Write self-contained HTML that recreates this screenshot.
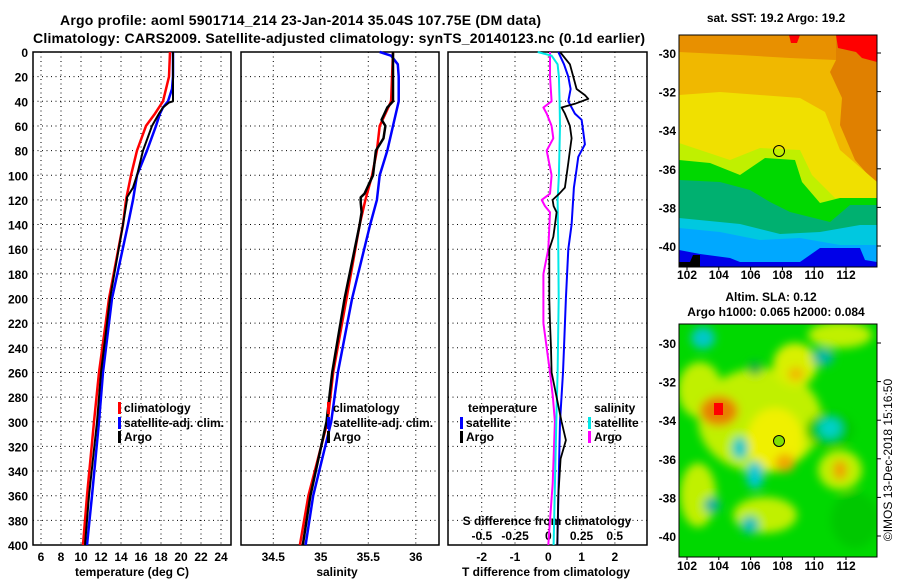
<!DOCTYPE html>
<html><head><meta charset="utf-8"><style>
html,body{margin:0;padding:0;background:#fff;}
svg{display:block;font-family:"Liberation Sans",Arial,sans-serif;font-weight:bold;}
</style></head><body>
<svg id="c" width="900" height="580" xmlns="http://www.w3.org/2000/svg">
<defs>
<clipPath id="clipTop"><rect x="679" y="35" width="198" height="232"/></clipPath>
<clipPath id="clipBot"><rect x="679" y="324" width="198" height="233"/></clipPath>
<filter id="blur" x="-20%" y="-20%" width="140%" height="140%"><feGaussianBlur stdDeviation="4.5"/></filter>
</defs>
<text x="60" y="25" font-size="14" textLength="481">Argo profile: aoml 5901714_214 23-Jan-2014 35.04S 107.75E (DM data)</text>
<text x="33" y="43" font-size="14" textLength="612">Climatology: CARS2009. Satellite-adjusted climatology: synTS_20140123.nc (0.1d earlier)</text>

<!-- SST map -->
<g clip-path="url(#clipTop)">
<rect x="679" y="35" width="198" height="232" fill="#f0b800"/>
<polygon fill="#e89000" points="679,35 836,35 836,60 790,58 740,55 679,52"/>
<polygon fill="#e08000" points="836,35 877,35 877,185 855,160 840,125 842,98 830,72 836,60"/>
<polygon fill="#ff0000" points="836,35 877,35 877,62 862,58 856,52 838,48"/>
<polygon fill="#ff0000" points="789,35 800,35 797,43 791,43"/>
<polygon fill="#f0e000" points="679,95 720,92 760,95 800,98 825,112 840,150 877,182 877,267 679,267"/>
<polygon fill="#c0f000" points="679,143 700,150 730,160 760,148 800,150 812,175 835,198 877,200 877,267 679,267"/>
<polygon fill="#00d800" points="679,160 710,163 740,175 765,158 795,160 802,182 820,203 840,198 877,198 877,267 679,267"/>
<polygon fill="#00b070" points="679,180 720,182 750,190 770,202 790,212 830,222 850,205 877,205 877,267 679,267"/>
<polygon fill="#00c8e0" points="679,218 740,224 780,234 820,232 860,225 877,225 877,267 679,267"/>
<polygon fill="#00a8ff" points="679,228 720,232 760,240 800,238 840,245 877,245 877,267 679,267"/>
<polygon fill="#0000e8" points="679,250 700,254 730,258 740,262 800,262 820,248 860,248 865,260 877,262 877,267 679,267"/>
<polygon fill="#000" points="679,262 690,262 693,255 700,255 700,267 679,267"/>
</g>
<rect x="679" y="35" width="198" height="232" fill="none" stroke="#000" stroke-width="1"/>
<circle cx="779" cy="151" r="5.5" fill="none" stroke="#000" stroke-width="1"/>
<text x="776" y="22" font-size="12" text-anchor="middle">sat. SST: 19.2 Argo: 19.2</text>

<!-- SLA map -->
<g clip-path="url(#clipBot)">
<rect x="679" y="324" width="198" height="233" fill="#00d800"/>
<g filter="url(#blur)">
<ellipse cx="760" cy="420" rx="62" ry="52" fill="#c0f000"/>
<ellipse cx="700" cy="390" rx="22" ry="28" fill="#c0f000"/>
<ellipse cx="698" cy="495" rx="18" ry="32" fill="#c0f000"/>
<ellipse cx="765" cy="515" rx="32" ry="18" fill="#c0f000"/>
<ellipse cx="840" cy="335" rx="32" ry="13" fill="#c0f000"/>
<ellipse cx="795" cy="365" rx="22" ry="22" fill="#d8f000"/>
<ellipse cx="840" cy="470" rx="22" ry="20" fill="#c0f000"/>
<ellipse cx="775" cy="440" rx="28" ry="32" fill="#f0f000"/>
<ellipse cx="719" cy="411" rx="19" ry="15" fill="#e88000"/>
<ellipse cx="785" cy="463" rx="10" ry="9" fill="#f0a800"/>
<ellipse cx="840" cy="470" rx="7" ry="10" fill="#f0a000"/>
<ellipse cx="796" cy="374" rx="8" ry="7" fill="#f0b800"/>
<ellipse cx="830" cy="430" rx="24" ry="17" fill="#00c800"/>
<ellipse cx="855" cy="520" rx="24" ry="28" fill="#00c800"/>
<ellipse cx="703" cy="338" rx="12" ry="11" fill="#00c8c8"/>
<ellipse cx="823" cy="357" rx="11" ry="9" fill="#00b8a0"/>
<ellipse cx="830" cy="428" rx="11" ry="10" fill="#00d0c8"/>
<ellipse cx="740" cy="448" rx="8" ry="11" fill="#00c8c8"/>
<ellipse cx="755" cy="475" rx="9" ry="14" fill="#00c8d0"/>
<ellipse cx="712" cy="505" rx="8" ry="8" fill="#00b0a0"/>
<ellipse cx="750" cy="525" rx="9" ry="9" fill="#00c0b8"/>
<ellipse cx="755" cy="368" rx="7" ry="7" fill="#00b040"/>
</g>
<rect x="714" y="403" width="9" height="12" fill="#ff0000"/>
</g>
<rect x="679" y="324" width="198" height="233" fill="none" stroke="#000" stroke-width="1"/>
<circle cx="779" cy="441" r="5.5" fill="#80e000" stroke="#000" stroke-width="1"/>
<text x="771" y="301" font-size="12" text-anchor="middle">Altim. SLA: 0.12</text>
<text x="776" y="316" font-size="12" text-anchor="middle">Argo h1000: 0.065 h2000: 0.084</text>
<text transform="translate(892,460) rotate(-90)" font-size="12" font-weight="normal" text-anchor="middle">©IMOS 13-Dec-2018 15:16:50</text>
</svg>
<script>
// ---------- data ----------
const depthTicks=[0,20,40,60,80,100,120,140,160,180,200,220,240,260,280,300,320,340,360,380,400];
const tempTicks=[6,8,10,12,14,16,18,20,22,24];
const salTicks=[34.5,35,35.5,36];
const tdiffTicks=[-2,-1,0,1,2];
const sdiffTicks=[-0.5,-0.25,0,0.25,0.5];
const sdiffLabels=["-0.5","-0.25","0","0.25","0.5"];
const lonTicks=[102,104,106,108,110,112];
const latTicks=[-30,-32,-34,-36,-38,-40];

const tClimDepth=[0,20,40,50,60,80,100,120,140,200,260,300,360,400];
const tClimVal=[18.9,18.8,18.2,17.4,16.5,15.6,15.0,14.5,14.2,12.8,11.8,11.3,10.6,10.2];
const tSatDepth=[0,20,30,40,45,50,60,80,100,120,140,200,260,300,360,400];
const tSatVal=[19.2,19.2,19.1,18.7,18.2,17.9,17.5,16.6,15.6,15.2,14.7,13.1,12.2,11.8,11.1,10.6];
const tArgoDepth=[0,20,40,41,45,50,60,80,100,110,118,120,140,200,260,300,360,400];
const tArgoVal=[19.2,19.2,19.2,18.8,18.2,17.8,17.1,16.2,15.6,15.2,14.6,14.6,14.2,12.9,12.0,11.6,10.8,10.4];

const sClimDepth=[0,40,60,80,100,120,140,200,260,300,360,400];
const sClimVal=[35.76,35.74,35.62,35.59,35.54,35.47,35.41,35.27,35.13,35.07,34.87,34.78];
const sSatDepth=[0,3,10,20,40,60,80,100,120,140,200,260,300,360,400];
const sSatVal=[35.62,35.74,35.81,35.82,35.82,35.76,35.70,35.62,35.59,35.52,35.33,35.18,35.11,34.92,34.84];
const sArgoDepth=[0,20,40,45,50,55,60,70,80,100,115,118,122,130,140,200,260,300,360,400];
const sArgoVal=[35.76,35.76,35.76,35.70,35.67,35.64,35.68,35.66,35.58,35.55,35.46,35.42,35.42,35.43,35.41,35.25,35.12,35.06,34.89,34.81];

const dTSatDepth=[0,10,20,30,40,50,55,65,75,85,95,110,140,160,200,240,260,300,400];
const dTSatVal=[0.3,0.47,0.6,0.67,0.6,0.8,1.0,1.05,1.1,0.9,0.85,0.77,0.7,0.6,0.53,0.47,0.44,0.35,0.27];
const dTArgoDepth=[0,10,20,30,35,38,42,45,50,60,70,80,90,100,110,115,120,125,130,140,150,160,180,200,220,240,260,300,315,330,360,400];
const dTArgoVal=[0.35,0.65,0.75,0.85,1.1,1.2,0.8,0.4,0.5,0.65,0.7,0.65,0.6,0.55,0.5,0.33,0.13,0.16,0.25,0.2,0.15,0.03,0.03,0.03,0.05,0.08,0.1,0.4,0.53,0.37,0.3,0.27];
const dSSatDepth=[0,3,10,20,40,60,100,120,160,200,260,300,400];
const dSSatVal=[-0.08,0.025,0.07,0.08,0.085,0.088,0.08,0.07,0.075,0.078,0.07,0.06,0.04];
const dSArgoDepth=[0,20,40,45,50,60,70,80,100,115,120,125,130,160,180,220,260,280,300,350,380,400];
const dSArgoVal=[0.013,0.013,0.025,-0.037,-0.012,0.025,0.038,-0.012,0.025,0.013,-0.05,-0.025,0.013,0.0,-0.037,-0.037,0.013,0.035,0.05,0.033,0.013,0.0];

// ---------- scales ----------
const Y0=52, Y1=545;
const yD=d=>Y0+d*1.2325;
const xT=t=>41+(t-6)*10;
const xS=s=>273.3+(s-34.5)*95;
const xTd=v=>548.3+v*33.3;
const xSd=v=>548.3+v*132.8;
const lonX=l=>687+(l-102)*15.9;
const latYTop=l=>53+(-30-l)*19.3;
const latYBot=l=>343+(-30-l)*19.3;

const svg=document.getElementById('c');
const NS='http://www.w3.org/2000/svg';
function mk(tag,parent){const e=document.createElementNS(NS,tag);(parent||svg).appendChild(e);return e;}
function txt(x,y,s,size,anchor){const t=mk('text');t.setAttribute('x',x);t.setAttribute('y',y);t.setAttribute('font-size',size);t.setAttribute('text-anchor',anchor);t.textContent=s;return t;}
function line(x1,y1,x2,y2,dash){const l=mk('line');l.setAttribute('x1',x1);l.setAttribute('y1',y1);l.setAttribute('x2',x2);l.setAttribute('y2',y2);l.setAttribute('stroke','#000');l.setAttribute('stroke-width','1');if(dash)l.setAttribute('stroke-dasharray','1,3.5');return l;}

const panels=[{x0:33,x1:231,name:'temperature'},{x0:241,x1:439,name:'salinity'},{x0:448,x1:647,name:'difference'}];

// grid
panels.forEach(p=>{
  depthTicks.forEach((d,i)=>{
    if(i===0||i===depthTicks.length-1)return;
    const g=line(p.x0,yD(d),p.x1,yD(d),true);
    
    
  });
});
tempTicks.forEach(t=>{const g=line(xT(t),Y0,xT(t),Y1,true);
  
  
  const l=txt(xT(t),561,String(t),12,'middle');
  
  });
salTicks.forEach(s=>{const g=line(xS(s),Y0,xS(s),Y1,true);
  
  
  const l=txt(xS(s),561,String(s),12,'middle');
  
  });
tdiffTicks.forEach(v=>{const g=line(xTd(v),Y0,xTd(v),Y1,true);
  
  
  const l=txt(xTd(v),561,String(v),12,'middle');
  
  });
sdiffTicks.forEach((v,i)=>{
  const l=txt(xSd(v),540,sdiffLabels[i],12,'middle');
  
  });
const sdt=txt(547,525,'S difference from climatology',12,'middle');



depthTicks.forEach(d=>{
  const l=txt(28,yD(d)+5,String(d),12,'end');
  
  
});

// frames
panels.forEach(p=>{
  const r=mk('rect');r.setAttribute('x',p.x0);r.setAttribute('y',Y0);r.setAttribute('width',p.x1-p.x0);r.setAttribute('height',Y1-Y0);
  r.setAttribute('fill','none');r.setAttribute('stroke','#000');r.setAttribute('stroke-width','1.5');
  
  
});

const a1=txt(132,576,'temperature (deg C)',12,'middle');


const a2=txt(337,576,'salinity',12,'middle');


const a3=txt(546,576,'T difference from climatology',12,'middle');



// series
function series(depths,vals,xf,color,w,name){
  const pl=mk('polyline');
  pl.setAttribute('points',depths.map((d,i)=>xf(vals[i]).toFixed(1)+','+yD(d).toFixed(1)).join(' '));
  pl.setAttribute('fill','none');pl.setAttribute('stroke',color);pl.setAttribute('stroke-width',w);
  pl.setAttribute('stroke-linejoin','round');
  
  
}
series(tClimDepth,tClimVal,xT,'#ff0000',2.5,'temperature-climatology-line');
series(tSatDepth,tSatVal,xT,'#0000ff',2.5,'temperature-satellite-line');
series(tArgoDepth,tArgoVal,xT,'#000',2,'temperature-argo-line');
series(sClimDepth,sClimVal,xS,'#ff0000',2.5,'salinity-climatology-line');
series(sSatDepth,sSatVal,xS,'#0000ff',2.5,'salinity-satellite-line');
series(sArgoDepth,sArgoVal,xS,'#000',2.5,'salinity-argo-line');
series(dSArgoDepth,dSArgoVal,xSd,'#ff00ff',2,'sdiff-argo-line');
series(dSSatDepth,dSSatVal,xSd,'#00e8e8',2,'sdiff-satellite-line');
series(dTSatDepth,dTSatVal,xTd,'#0000ff',2,'tdiff-satellite-line');
series(dTArgoDepth,dTArgoVal,xTd,'#000',1.8,'tdiff-argo-line');

// legends
function legend(x,y,color,label,name){
  const r=mk('rect');r.setAttribute('x',x);r.setAttribute('y',y-10);r.setAttribute('width',3);r.setAttribute('height',12);r.setAttribute('fill',color);
  
  
  const t=txt(x+6,y,label,12,'start');
  
  
}
legend(118,412,'#ff0000','climatology','temp-legend-climatology');
legend(118,427,'#0000ff','satellite-adj. clim.','temp-legend-satellite');
legend(118,441,'#000','Argo','temp-legend-argo');
legend(327,412,'#ff0000','climatology','sal-legend-climatology');
legend(327,427,'#0000ff','satellite-adj. clim.','sal-legend-satellite');
legend(327,441,'#000','Argo','sal-legend-argo');
const lt=txt(468,412,'temperature',12,'start');


const ls=txt(594,412,'salinity',12,'start');


legend(460,427,'#0000ff','satellite','diff-legend-t-satellite');
legend(460,441,'#000','Argo','diff-legend-t-argo');
legend(588,427,'#00e8e8','satellite','diff-legend-s-satellite');
legend(588,441,'#ff00ff','Argo','diff-legend-s-argo');

// map axes
[['top',latYTop,267,277],['bottom',latYBot,557,568]].forEach(m=>{
  lonTicks.forEach(l=>{
    const t=txt(lonX(l),m[3]+2,String(l),12,'middle');
    
    
    const tk=line(lonX(l),m[2],lonX(l),m[2]+3,false);
    
    
  });
  latTicks.forEach(l=>{
    const t=txt(676,m[1](l)+5,String(l),12,'end');
    
    
    const tk=line(877,m[1](l),881,m[1](l),false);
    
    
  });
});
</script>
</body></html>
